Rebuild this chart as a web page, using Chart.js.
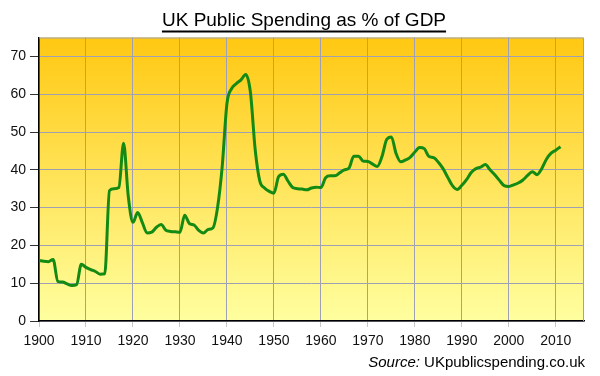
<!DOCTYPE html>
<html><head><meta charset="utf-8">
<script src="https://cdn.jsdelivr.net/npm/chart.js@4"></script>
<style>html,body{margin:0;padding:0;background:#fff;}#wrap{width:600px;height:376px;}</style>
</head><body><div id="wrap"><canvas id="c" width="600" height="376"></canvas></div>
<script>
const titleText = 'UK Public Spending as % of GDP';
const sourceLabel = 'Source:';
const sourceText = 'UKpublicspending.co.uk';

const years = [1900,1901,1902,1903,1904,1905,1906,1907,1908,1909,
1910,1911,1912,1913,1914,1915,1916,1917,1918,1919,
1920,1921,1922,1923,1924,1925,1926,1927,1928,1929,
1930,1931,1932,1933,1934,1935,1936,1937,1938,1939,
1940,1941,1942,1943,1944,1945,1946,1947,1948,1949,
1950,1951,1952,1953,1954,1955,1956,1957,1958,1959,
1960,1961,1962,1963,1964,1965,1966,1967,1968,1969,
1970,1971,1972,1973,1974,1975,1976,1977,1978,1979,
1980,1981,1982,1983,1984,1985,1986,1987,1988,1989,
1990,1991,1992,1993,1994,1995,1996,1997,1998,1999,
2000,2001,2002,2003,2004,2005,2006,2007,2008,2009,
2010,2011];

const spending = [16.0,15.8,15.7,16.3,10.5,10.3,9.8,9.4,9.6,15.0,
14.2,13.6,13.1,12.4,12.5,34.5,35.0,35.3,47.0,33.0,
26.1,28.7,26.0,23.3,23.5,24.8,25.5,24.0,23.7,23.6,
23.5,28.0,25.8,25.4,24.0,23.3,24.2,24.6,30.0,41.0,
57.5,61.5,62.8,63.8,65.2,60.5,45.5,37.0,35.2,34.3,
33.8,38.2,38.8,37.0,35.3,35.0,34.9,34.7,35.2,35.4,
35.3,37.9,38.4,38.4,39.2,40.0,40.5,43.6,43.6,42.3,
42.2,41.5,40.9,43.5,48.0,48.7,44.3,42.1,42.6,43.3,
44.7,45.9,45.6,43.5,43.2,42.0,40.3,38.0,35.8,34.8,
35.9,37.4,39.3,40.3,40.7,41.4,40.0,38.7,37.2,35.8,
35.6,36.0,36.5,37.3,38.5,39.5,38.7,40.3,42.8,44.4,
45.2,46.1];

const xTickValues = [1900,1910,1920,1930,1940,1950,1960,1970,1980,1990,2000,2010];
const yTickValues = [0,10,20,30,40,50,60,70];

const FONT = '"Liberation Sans", Arial, sans-serif';

const decor = {
  id: 'decor',
  beforeDraw(chart) {
    const {ctx, chartArea: a} = chart;
    const g = ctx.createLinearGradient(0, a.top, 0, a.bottom);
    g.addColorStop(0, '#ffc812');
    g.addColorStop(1, '#ffffa0');
    ctx.save();
    ctx.fillStyle = g;
    ctx.fillRect(a.left, a.top, a.right - a.left, a.bottom - a.top);
    ctx.restore();
  },
  beforeDatasetsDraw(chart) {
    const {ctx, chartArea: a} = chart;
    ctx.save();
    ctx.strokeStyle = '#a0a0b0';
    ctx.lineWidth = 1;
    ctx.beginPath();
    ctx.moveTo(a.left, a.top + 0.5);
    ctx.lineTo(a.right - 0.5, a.top + 0.5);
    ctx.lineTo(a.right - 0.5, a.bottom);
    ctx.stroke();
    ctx.restore();
  },
  afterDraw(chart) {
    const {ctx} = chart;
    ctx.save();
    ctx.fillStyle = '#000';
    ctx.font = '19px ' + FONT;
    ctx.textAlign = 'center';
    ctx.textBaseline = 'alphabetic';
    const cx = 304;
    ctx.fillText(titleText, cx, 26);
    const w = ctx.measureText(titleText).width;
    ctx.fillRect(cx - w / 2, 30.5, w, 2);

    ctx.textAlign = 'left';
    ctx.font = 'italic 15px ' + FONT;
    const w1 = ctx.measureText(sourceLabel + ' ').width;
    ctx.font = '15px ' + FONT;
    const w2 = ctx.measureText(sourceText).width;
    const x0 = 585 - w1 - w2;
    ctx.font = 'italic 15px ' + FONT;
    ctx.fillText(sourceLabel, x0, 367);
    ctx.font = '15px ' + FONT;
    ctx.fillText(sourceText, x0 + w1, 367);
    ctx.restore();
  }
};

new Chart(document.getElementById('c'), {
  type: 'line',
  data: {
    datasets: [{
      data: years.map((y, i) => ({x: y, y: spending[i]})),
      borderColor: '#138a13',
      borderWidth: 3,
      pointRadius: 0,
      fill: false,
      cubicInterpolationMode: 'monotone'
    }]
  },
  options: {
    responsive: false,
    animation: false,
    layout: {padding: {top: 37.5, right: 16, left: 0, bottom: 0}},
    plugins: {legend: {display: false}, tooltip: {enabled: false}, title: {display: false}},
    scales: {
      x: {
        type: 'linear',
        min: 1900, max: 2016,
        afterFit: s => { s.height = 55; },
        afterBuildTicks: s => { s.ticks = xTickValues.map(v => ({value: v})); },
        ticks: {
          callback: v => String(v),
          color: '#111', font: {family: FONT, size: 14}, padding: 6,
          maxRotation: 0, autoSkip: false
        },
        grid: {color: '#a0a0b4', lineWidth: 1, tickLength: 6, tickColor: '#c8c8c8'},
        border: {color: '#000', width: 1.5}
      },
      y: {
        min: 0, max: 75,
        afterFit: s => { s.width = 39; },
        afterBuildTicks: s => { s.ticks = yTickValues.map(v => ({value: v})); },
        ticks: {
          callback: v => String(v),
          color: '#111', font: {family: FONT, size: 14}, padding: 4
        },
        grid: {color: '#a0a0b4', lineWidth: 1, tickLength: 9, tickColor: '#333'},
        border: {color: '#000', width: 1.5}
      }
    }
  },
  plugins: [decor]
});
</script>
</body></html>
